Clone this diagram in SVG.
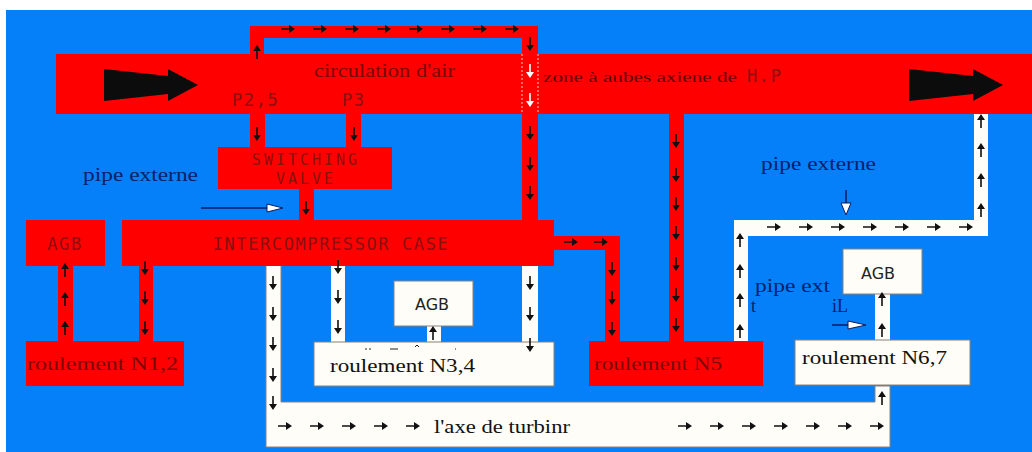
<svg xmlns="http://www.w3.org/2000/svg" width="1032" height="452" viewBox="0 0 1032 452">
<style>
.r{fill:#fe0000}
.w{fill:#fffdf8;stroke:#8a8078;stroke-width:1}
.s{font-family:"Liberation Serif",serif;font-size:18px;fill:#7a0808}
.k{font-family:"Liberation Serif",serif;font-size:19px;fill:#111}
.m{font-family:"DejaVu Sans Mono","Liberation Mono",monospace;font-size:17px;letter-spacing:1.6px;fill:#8a1010}
.v{font-size:15px;letter-spacing:3px}
.b{font-family:"Liberation Serif",serif;font-size:18px;fill:#06206a}
.a{font-family:"DejaVu Sans",sans-serif;font-size:16px;fill:#222}
.l{stroke:#0a1a60;stroke-width:1.5;fill:none}
</style>
<defs>
<g id="ar"><path d="M-7 -0.8H1V-4L7 0L1 4V0.8H-7Z" fill="#111"/></g>
<g id="ad"><path d="M-0.8 -7V1H-4L0 7L4 1H0.8V-7Z" fill="#111"/></g>
<g id="au"><path d="M-0.8 7V-1H-4L0 -7L4 -1H0.8V7Z" fill="#111"/></g>
<g id="dw"><path d="M-0.8 -7V1H-4L0 7L4 1H0.8V-7Z" fill="#fff"/></g>
<g id="big"><path d="M0 -16L64 -9V-16L94 0L64 16V9L0 16Z" fill="#0c0c0c"/></g>
</defs>
<rect x="6" y="10" width="1026" height="442" fill="#0680f8"/>
<g id="connectors">
<g class="r">
<path d="M250 54V26H538V54H522V38H264V54Z"/>
<rect x="522" y="114" width="16" height="106"/>
<rect x="250" y="114" width="15" height="33"/>
<rect x="346" y="114" width="15" height="33"/>
<rect x="299" y="189" width="15" height="31"/>
<rect x="58" y="266" width="15" height="75"/>
<rect x="139" y="266" width="14" height="75"/>
<path d="M554 236H620V341H605V250H554Z"/>
<rect x="669" y="114" width="15" height="227"/>
</g>
<g fill="#fffdf8">
<rect x="331" y="266" width="14" height="76"/>
<rect x="427" y="326" width="14" height="16"/>
<rect x="522" y="266" width="16" height="76"/>
<path d="M734 341V220H974V114H988V236H748V341Z"/>
<rect x="875" y="294" width="15" height="46"/>
</g>
</g>
<g id="air-flow">
<rect class="r" x="56" y="54" width="976" height="60"/>
<path d="M522 54V114M538 54V114" stroke="#fff" stroke-width=".8" stroke-dasharray="2 2" fill="none"/>
<use href="#big" x="104" y="85"/><use href="#big" x="909" y="85"/>
<text class="s" x="314" y="77" textLength="141" lengthAdjust="spacingAndGlyphs">circulation d'air</text>
<text class="m" x="232" y="106">P2,5</text>
<text class="m" x="342" y="106">P3</text>
<text class="s" x="543" y="82" textLength="194" lengthAdjust="spacingAndGlyphs" style="font-size:15px;fill:#5a0505">zone à aubes axiene de</text>
<text class="m" x="747" y="82">H.P</text>
</g>
<g id="switching-valve">
<rect class="r" x="218" y="147" width="174" height="42"/>
<text class="m v" x="306" y="165" text-anchor="middle">SWITCHING</text>
<text class="m v" x="306" y="184" text-anchor="middle">VALVE</text>
</g>
<g id="intercompressor-case">
<rect class="r" x="122" y="220" width="432" height="46"/>
<text class="m" x="331" y="250" text-anchor="middle">INTERCOMPRESSOR CASE</text>
</g>
<g id="agb-left">
<rect class="r" x="26" y="220" width="79" height="46"/>
<text class="m" x="65" y="250" text-anchor="middle">AGB</text>
</g>
<g id="roulement-n12">
<rect class="r" x="26" y="341" width="158" height="45"/>
<text class="s" x="27" y="370" textLength="151" lengthAdjust="spacingAndGlyphs" style="font-size:19px">roulement N1,2</text>
</g>
<g id="agb-centre">
<rect class="w" x="394" y="281" width="79" height="45"/>
<text class="a" x="432" y="310" text-anchor="middle">AGB</text>
</g>
<g id="roulement-n34">
<rect class="w" x="314" y="342" width="240" height="44"/>
<text class="k" x="330" y="372" textLength="145" lengthAdjust="spacingAndGlyphs">roulement N3,4</text>
<path d="M365 349h2M369 349h2M390 349h8M415 347l2 -2l2 2M455 349h1" stroke="#222" stroke-width="1" fill="none"/>
</g>
<g id="roulement-n5">
<rect class="r" x="589" y="341" width="174" height="45"/>
<text class="s" x="594" y="370" textLength="128" lengthAdjust="spacingAndGlyphs">roulement N5</text>
</g>
<g id="agb-right">
<rect class="w" x="843" y="249" width="79" height="45"/>
<text class="a" x="878" y="279" text-anchor="middle">AGB</text>
</g>
<g id="roulement-n67">
<rect class="w" x="795" y="340" width="175" height="45"/>
<text class="k" x="802" y="364" textLength="145" lengthAdjust="spacingAndGlyphs">roulement N6,7</text>
</g>
<g id="axe-turbine">
<path class="w" d="M266 266V447H890V386H875V402H281V266"/>
<text class="k" x="434" y="433" textLength="136" lengthAdjust="spacingAndGlyphs">l'axe de turbinr</text>
</g>
<g id="labels">
<text class="b" x="83" y="181" textLength="115" lengthAdjust="spacingAndGlyphs">pipe externe</text>
<text class="b" x="761" y="170" textLength="115" lengthAdjust="spacingAndGlyphs">pipe externe</text>
<text class="b" x="755" y="292" textLength="75" lengthAdjust="spacingAndGlyphs">pipe ext</text>
<text class="b" x="751" y="312">t</text>
<text class="b" x="832" y="312">iL</text>
</g>
<g id="connector-arrows">
<use href="#ar" x="288" y="29"/><use href="#ar" x="320" y="29"/><use href="#ar" x="352" y="29"/><use href="#ar" x="384" y="29"/><use href="#ar" x="416" y="29"/><use href="#ar" x="448" y="29"/><use href="#ar" x="480" y="29"/><use href="#ar" x="512" y="29"/>
<use href="#au" x="257" y="52"/><use href="#ad" x="530" y="44"/>
<use href="#dw" x="530" y="71"/><use href="#dw" x="530" y="100"/>
<use href="#ad" x="530" y="133"/><use href="#ad" x="530" y="164"/><use href="#ad" x="530" y="193"/>
<use href="#ad" x="257" y="134"/><use href="#ad" x="354" y="134"/><use href="#ad" x="306" y="208"/>
<use href="#au" x="65" y="270"/><use href="#au" x="65" y="299"/><use href="#au" x="65" y="328"/>
<use href="#ad" x="145" y="268"/><use href="#ad" x="145" y="298"/><use href="#ad" x="145" y="328"/>
<use href="#ad" x="273" y="283"/><use href="#ad" x="273" y="314"/><use href="#ad" x="273" y="344"/><use href="#ad" x="273" y="375"/><use href="#ad" x="273" y="403"/>
<use href="#ad" x="338" y="267"/><use href="#ad" x="338" y="297"/><use href="#ad" x="338" y="327"/>
<use href="#au" x="433" y="333"/>
<use href="#ad" x="530" y="283"/><use href="#ad" x="530" y="314"/><use href="#ad" x="530" y="345"/>
<use href="#ar" x="571" y="242"/><use href="#ar" x="601" y="242"/>
<use href="#ad" x="612" y="269"/><use href="#ad" x="612" y="298"/><use href="#ad" x="612" y="329"/>
<use href="#ad" x="676" y="141"/><use href="#ad" x="676" y="175"/><use href="#ad" x="676" y="204"/><use href="#ad" x="676" y="233"/><use href="#ad" x="676" y="264"/><use href="#ad" x="676" y="295"/><use href="#ad" x="676" y="325"/>
<use href="#au" x="740" y="240"/><use href="#au" x="740" y="271"/><use href="#au" x="740" y="300"/><use href="#au" x="740" y="331"/>
<use href="#ar" x="774" y="227"/><use href="#ar" x="806" y="227"/><use href="#ar" x="838" y="227"/><use href="#ar" x="870" y="227"/><use href="#ar" x="902" y="227"/><use href="#ar" x="934" y="227"/><use href="#ar" x="966" y="227"/>
<use href="#au" x="981" y="121"/><use href="#au" x="981" y="150"/><use href="#au" x="981" y="180"/><use href="#au" x="981" y="210"/>
<use href="#au" x="882" y="299"/><use href="#au" x="882" y="330"/><use href="#au" x="882" y="398"/>
<use href="#ar" x="285" y="426"/><use href="#ar" x="317" y="426"/><use href="#ar" x="349" y="426"/><use href="#ar" x="381" y="426"/><use href="#ar" x="413" y="426"/>
<use href="#ar" x="685" y="426"/><use href="#ar" x="717" y="426"/><use href="#ar" x="749" y="426"/><use href="#ar" x="781" y="426"/><use href="#ar" x="813" y="426"/><use href="#ar" x="845" y="426"/><use href="#ar" x="877" y="426"/>
<path class="l" d="M201 208H278"/><path d="M267 204L283 208L267 212Z" fill="#fff" stroke="#0a1a60"/>
<path class="l" d="M846 190V204"/><path d="M841 203L846 215L851 203Z" fill="#fff" stroke="#0a1a60"/>
<path class="l" d="M832 325H850"/><path d="M848 321L866 325L848 329Z" fill="#fff" stroke="#0a1a60"/>
</g>
</svg>
